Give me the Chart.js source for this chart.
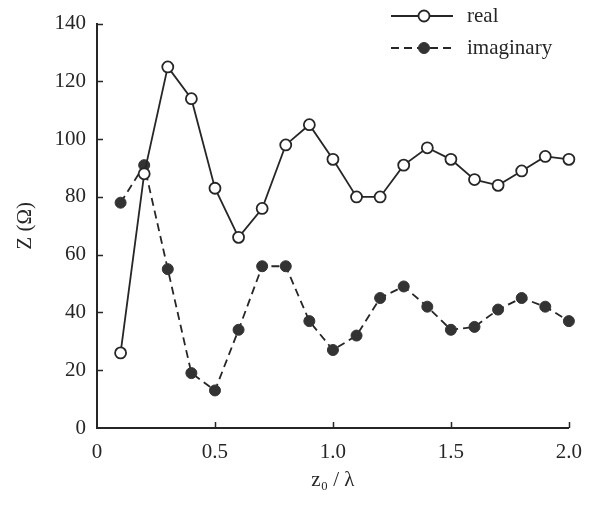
<!DOCTYPE html>
<html>
<head>
<meta charset="utf-8">
<script src="https://cdn.jsdelivr.net/npm/chart.js@4"></script>
<style>
  html, body { margin: 0; padding: 0; background: #fff; }
  #wrap { width: 594px; height: 508px; }
</style>
</head>
<body>
<div id="wrap"><canvas id="zChart" width="594" height="508"></canvas></div>
<script>
// data
const zOverLambda = [0.1, 0.2, 0.3, 0.4, 0.5, 0.6, 0.7, 0.8, 0.9, 1.0,
                     1.1, 1.2, 1.3, 1.4, 1.5, 1.6, 1.7, 1.8, 1.9, 2.0];
const realZ = [26, 88, 125, 114, 83, 66, 76, 98, 105, 93,
               80, 80, 91, 97, 93, 86, 84, 89, 94, 93];
const imagZ = [78, 91, 55, 19, 13, 34, 56, 56, 37, 27,
               32, 45, 49, 42, 34, 35, 41, 45, 42, 37];
const xTicks = [0, 0.5, 1.0, 1.5, 2.0];
const yTicks = [0, 20, 40, 60, 80, 100, 120, 140];

const ink = '#262626';
const serif = "'Liberation Serif', 'DejaVu Serif', serif";

const toPoints = ys => ys.map((y, i) => ({ x: zOverLambda[i], y: y }));

// short ticks pointing into the plot
const innerTicks = {
  id: 'innerTicks',
  afterDraw(chart) {
    const { ctx, chartArea, scales } = chart;
    ctx.save();
    ctx.strokeStyle = ink;
    ctx.lineWidth = 1.5;
    ctx.beginPath();
    yTicks.slice(1).forEach(v => {
      const py = Math.round(scales.y.getPixelForValue(v)) + 0.5;
      ctx.moveTo(chartArea.left, py);
      ctx.lineTo(chartArea.left + 6, py);
    });
    xTicks.slice(1).forEach(v => {
      const px = Math.round(scales.x.getPixelForValue(v)) + 0.5;
      ctx.moveTo(px, chartArea.bottom);
      ctx.lineTo(px, chartArea.bottom - 6);
    });
    ctx.stroke();
    ctx.restore();
  }
};

// legend: line - marker - line, then label
const sampleLegend = {
  id: 'sampleLegend',
  afterDraw(chart) {
    const { ctx } = chart;
    const rows = [16, 48];
    ctx.save();
    chart.data.datasets.forEach((ds, i) => {
      const y = rows[i];
      ctx.strokeStyle = ds.borderColor;
      ctx.lineWidth = ds.borderWidth;
      ctx.setLineDash(ds.borderDash || []);
      ctx.beginPath();
      ctx.moveTo(391, y);
      ctx.lineTo(453, y);
      ctx.stroke();
      ctx.setLineDash([]);
      ctx.beginPath();
      ctx.arc(424, y, ds.pointRadius, 0, Math.PI * 2);
      ctx.fillStyle = ds.pointBackgroundColor;
      ctx.fill();
      ctx.lineWidth = ds.pointBorderWidth;
      ctx.strokeStyle = ds.pointBorderColor;
      ctx.stroke();
      ctx.fillStyle = ink;
      ctx.font = '21px ' + serif;
      ctx.textBaseline = 'middle';
      ctx.fillText(ds.label, 467, y);
    });
    ctx.restore();
  }
};

new Chart(document.getElementById('zChart'), {
  type: 'line',
  data: {
    datasets: [
      {
        label: 'real',
        data: toPoints(realZ),
        borderColor: ink,
        borderWidth: 1.8,
        pointRadius: 5.5,
        pointBackgroundColor: '#ffffff',
        pointBorderColor: ink,
        pointBorderWidth: 1.8,
        tension: 0,
        clip: false
      },
      {
        label: 'imaginary',
        data: toPoints(imagZ),
        borderColor: ink,
        borderWidth: 1.8,
        borderDash: [8, 5],
        pointRadius: 5.5,
        pointBackgroundColor: '#333333',
        pointBorderColor: '#333333',
        pointBorderWidth: 1,
        tension: 0,
        clip: false
      }
    ]
  },
  options: {
    responsive: false,
    animation: false,
    layout: { padding: { top: 21, right: 22, left: 0, bottom: 0 } },
    plugins: {
      legend: { display: false },
      tooltip: { enabled: false }
    },
    scales: {
      x: {
        type: 'linear',
        min: 0,
        max: 2.0,
        afterFit: s => { s.height = 80; },
        afterBuildTicks: s => { s.ticks = xTicks.map(v => ({ value: v })); },
        grid: { display: false, drawTicks: false },
        border: { display: true, color: ink, width: 2 },
        ticks: {
          padding: 12,
          color: ink,
          font: { family: serif, size: 21 },
          callback: v => (v === 0 ? '0' : v.toFixed(1))
        },
        title: {
          display: true,
          text: 'z\u2080 / \u03bb',
          color: ink,
          font: { family: serif, size: 21 },
          padding: { top: 0, bottom: 15 }
        }
      },
      y: {
        min: 0,
        max: 140,
        afterFit: s => { s.width = 97; },
        afterBuildTicks: s => { s.ticks = yTicks.map(v => ({ value: v })); },
        grid: { display: false, drawTicks: false },
        border: { display: true, color: ink, width: 2 },
        ticks: {
          padding: 11,
          color: ink,
          font: { family: serif, size: 21 }
        },
        title: {
          display: true,
          text: 'Z (\u03a9)',
          color: ink,
          font: { family: serif, size: 21 },
          padding: { top: 13, bottom: 0 }
        }
      }
    }
  },
  plugins: [innerTicks, sampleLegend]
});
</script>
</body>
</html>
